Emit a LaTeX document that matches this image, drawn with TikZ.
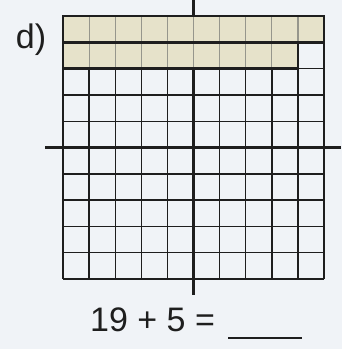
\documentclass[tikz,border=0pt]{standalone}
\usepackage{fontspec}
\setmainfont{Liberation Sans}
\definecolor{bgc}{RGB}{240,243,247}
\definecolor{beigefill}{RGB}{230,226,202}
\definecolor{ink}{RGB}{30,30,30}
\definecolor{softink}{RGB}{150,150,140}
\begin{document}
\begin{tikzpicture}[x=1pt,y=-1pt,
  gridline/.style={draw=ink,line width=1.4pt},
  softline/.style={draw=softink,line width=1.2pt},
  thick border/.style={draw=ink,line width=2.6pt},
  axisline/.style={draw=ink,line width=2.4pt},
  lbl/.style={font=\fontsize{34}{36}\selectfont,text=ink,inner sep=0pt}]
\fill[bgc] (0,0) rectangle (342,349);
\useasboundingbox (0,0) rectangle (342,349);
\def\gl{63}\def\gt{16}\def\cw{26.1}\def\ch{26.3}
% shaded cells
\fill[beigefill] (\gl,\gt) rectangle ({\gl+10*\cw},{\gt+\ch});
\fill[beigefill] (\gl,{\gt+\ch}) rectangle ({\gl+9*\cw},{\gt+2*\ch});
% grid
\foreach \i in {0,...,10}{
  \draw[softline] ({\gl+\i*\cw},\gt) -- ({\gl+\i*\cw},{\gt+2*\ch});
  \draw[gridline] ({\gl+\i*\cw},{\gt+2*\ch}) -- ({\gl+\i*\cw},{\gt+10*\ch});
}
\foreach \i in {2,...,10}{
  \draw[gridline] (\gl,{\gt+\i*\ch}) -- ({\gl+10*\cw},{\gt+\i*\ch});
}
\draw[gridline] ({\gl+9*\cw},{\gt+\ch}) -- ({\gl+10*\cw},{\gt+\ch});
\draw[gridline] ({\gl+10*\cw},{\gt+\ch}) -- ({\gl+10*\cw},{\gt+2*\ch});
% thick borders around shaded parts
\draw[thick border] (\gl,\gt) rectangle ({\gl+10*\cw},{\gt+\ch});
\draw[thick border] (\gl,{\gt+\ch}) rectangle ({\gl+9*\cw},{\gt+2*\ch});
% axes
\draw[axisline] ({\gl+5*\cw},0) -- ({\gl+5*\cw},\gt);
\draw[axisline] ({\gl+5*\cw},{\gt+2*\ch}) -- ({\gl+5*\cw},295);
\draw[axisline] (45,{\gt+5*\ch}) -- (341,{\gt+5*\ch});
% labels
\node[lbl] (d) at (31,40) {d)};
\node[lbl] (eq) at (152.5,320) {19 + 5 =};
\coordinate (u1) at (228,338);
\coordinate (u2) at (302,338);
\draw[ink,line width=1.4pt] (u1) -- (u2);
\end{tikzpicture}
\end{document}
